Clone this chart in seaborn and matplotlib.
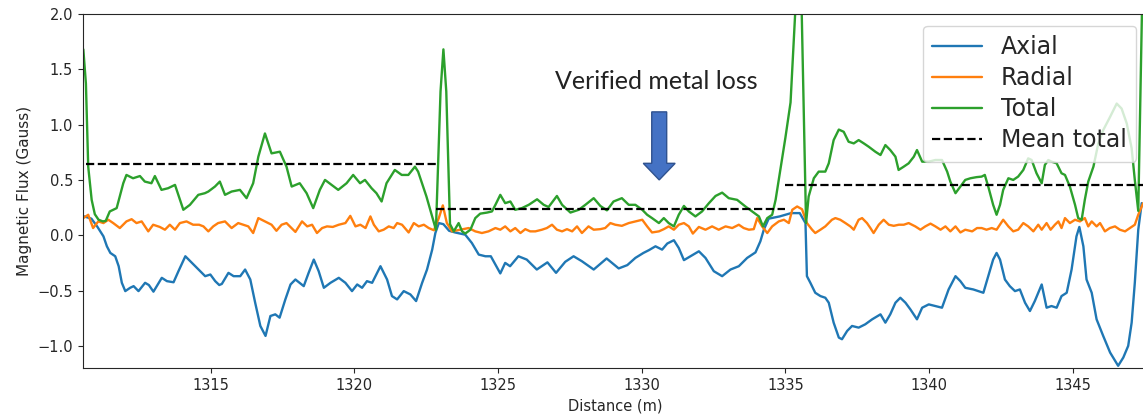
import numpy as np
import pandas as pd
import matplotlib
matplotlib.use("Agg")
import matplotlib.pyplot as plt
from matplotlib.lines import Line2D
from matplotlib.patches import FancyArrow
import seaborn as sns

# Axial component
axial_x = [1310.6, 1310.85, 1311.05, 1311.27, 1311.39, 1311.51, 1311.68, 1311.8, 1311.91, 1312.03,
           1312.2, 1312.32, 1312.49, 1312.72, 1312.85, 1313.01, 1313.3, 1313.48, 1313.71, 1313.88,
           1314.12, 1314.35, 1314.58, 1314.81, 1314.99, 1315.16, 1315.3, 1315.39, 1315.62, 1315.8,
           1316.03, 1316.2, 1316.38, 1316.55, 1316.73, 1316.91, 1317.08, 1317.25, 1317.4, 1317.6,
           1317.78, 1317.95, 1318.24, 1318.41, 1318.59, 1318.76, 1318.94, 1319.17, 1319.46, 1319.69,
           1319.92, 1320.1, 1320.27, 1320.44, 1320.62, 1320.91, 1321.14, 1321.31, 1321.49, 1321.72,
           1321.95, 1322.15, 1322.36, 1322.53, 1322.71, 1322.82, 1322.94, 1323.1, 1323.3, 1323.51,
           1323.86, 1324.09, 1324.33, 1324.56, 1324.75, 1324.91, 1325.08, 1325.25, 1325.42, 1325.71,
           1326.0, 1326.35, 1326.72, 1327.02, 1327.34, 1327.63, 1327.92, 1328.33, 1328.78, 1329.2,
           1329.5, 1329.78, 1330.06, 1330.25, 1330.48, 1330.71, 1330.89, 1331.12, 1331.29, 1331.47,
           1331.7, 1331.99, 1332.22, 1332.51, 1332.8, 1333.09, 1333.38, 1333.67, 1333.96, 1334.13,
           1334.25, 1334.42, 1334.8, 1335.2, 1335.5, 1335.7, 1335.75, 1335.87, 1336.04, 1336.22,
           1336.39, 1336.51, 1336.68, 1336.86, 1336.97, 1337.15, 1337.32, 1337.55, 1337.78, 1338.02,
           1338.31, 1338.48, 1338.65, 1338.83, 1339.0, 1339.18, 1339.35, 1339.58, 1339.76, 1339.99,
           1340.22, 1340.45, 1340.68, 1340.92, 1341.09, 1341.26, 1341.54, 1341.89, 1342.06, 1342.23,
           1342.35, 1342.47, 1342.64, 1342.81, 1342.99, 1343.16, 1343.34, 1343.51, 1343.68, 1343.92,
           1344.09, 1344.26, 1344.44, 1344.61, 1344.79, 1344.96, 1345.13, 1345.23, 1345.37, 1345.48,
           1345.66, 1345.83, 1346.06, 1346.3, 1346.58, 1346.76, 1346.93, 1347.05, 1347.16, 1347.28,
           1347.4]
axial_y = [0.17, 0.15, 0.08, -0.01, -0.10, -0.16, -0.19, -0.28, -0.43, -0.505,
           -0.475, -0.46, -0.505, -0.43, -0.45, -0.51, -0.385, -0.415, -0.425, -0.325,
           -0.19, -0.25, -0.31, -0.37, -0.355, -0.415, -0.45, -0.44, -0.34, -0.37,
           -0.37, -0.31, -0.4, -0.61, -0.82, -0.91, -0.73, -0.715, -0.745, -0.58,
           -0.445, -0.4, -0.46, -0.34, -0.22, -0.325, -0.475, -0.43, -0.385, -0.43,
           -0.505, -0.445, -0.475, -0.415, -0.43, -0.28, -0.4, -0.55, -0.58, -0.505,
           -0.535, -0.595, -0.43, -0.31, -0.13, 0.02, 0.11, 0.1, 0.04, 0.025,
           0.005, -0.07, -0.175, -0.19, -0.19, -0.265, -0.345, -0.25, -0.28, -0.19,
           -0.22, -0.31, -0.245, -0.34, -0.24, -0.19, -0.235, -0.31, -0.21, -0.3,
           -0.27, -0.205, -0.16, -0.135, -0.1, -0.13, -0.075, -0.045, -0.115, -0.225,
           -0.19, -0.145, -0.205, -0.325, -0.37, -0.31, -0.28, -0.205, -0.155, -0.055,
           0.05, 0.15, 0.17, 0.2, 0.2, 0.11, -0.37, -0.43, -0.52, -0.55,
           -0.565, -0.61, -0.79, -0.925, -0.94, -0.865, -0.82, -0.835, -0.805, -0.76,
           -0.715, -0.79, -0.715, -0.61, -0.565, -0.61, -0.67, -0.76, -0.655, -0.625,
           -0.64, -0.655, -0.49, -0.37, -0.415, -0.475, -0.49, -0.52, -0.37, -0.22,
           -0.16, -0.22, -0.4, -0.46, -0.505, -0.49, -0.61, -0.685, -0.595, -0.445,
           -0.655, -0.64, -0.655, -0.55, -0.52, -0.31, -0.01, 0.075, -0.1, -0.4,
           -0.52, -0.76, -0.91, -1.06, -1.18, -1.105, -1.0, -0.79, -0.43, 0.05,
           0.29]

# Radial component
radial_x = [1310.57, 1310.74, 1310.91, 1311.09, 1311.27, 1311.44, 1311.61, 1311.84, 1312.07, 1312.25,
            1312.42, 1312.6, 1312.83, 1313.0, 1313.23, 1313.41, 1313.58, 1313.76, 1313.93, 1314.16,
            1314.39, 1314.6, 1314.75, 1314.92, 1315.09, 1315.26, 1315.5, 1315.73, 1315.96, 1316.13,
            1316.31, 1316.48, 1316.66, 1316.89, 1317.12, 1317.29, 1317.47, 1317.64, 1317.87, 1317.95,
            1318.18, 1318.36, 1318.53, 1318.7, 1318.88, 1319.05, 1319.25, 1319.46, 1319.69, 1319.86,
            1320.04, 1320.21, 1320.39, 1320.56, 1320.68, 1320.85, 1321.02, 1321.2, 1321.37, 1321.49,
            1321.66, 1321.89, 1322.07, 1322.24, 1322.42, 1322.59, 1322.77, 1322.94, 1323.08, 1323.22,
            1323.4, 1323.69, 1323.98, 1324.21, 1324.44, 1324.67, 1324.91, 1325.08, 1325.25, 1325.43,
            1325.6, 1325.78, 1325.95, 1326.12, 1326.3, 1326.53, 1326.7, 1326.88, 1327.05, 1327.23,
            1327.4, 1327.58, 1327.75, 1327.92, 1328.15, 1328.33, 1328.56, 1328.73, 1328.91, 1329.08,
            1329.31, 1329.55, 1329.78, 1330.02, 1330.19, 1330.36, 1330.6, 1330.77, 1330.94, 1331.12,
            1331.29, 1331.47, 1331.64, 1331.78, 1331.99, 1332.22, 1332.45, 1332.68, 1332.92, 1333.15,
            1333.38, 1333.55, 1333.73, 1333.9, 1334.02, 1334.19, 1334.37, 1334.54, 1334.77, 1334.95,
            1335.12, 1335.24, 1335.41, 1335.58, 1335.75, 1335.93, 1336.04, 1336.22, 1336.39, 1336.62,
            1336.74, 1336.91, 1337.09, 1337.26, 1337.38, 1337.55, 1337.67, 1337.84, 1337.96, 1338.07,
            1338.25, 1338.42, 1338.6, 1338.77, 1338.95, 1339.12, 1339.29, 1339.52, 1339.7, 1339.87,
            1340.05, 1340.22, 1340.4, 1340.57, 1340.74, 1340.92, 1341.09, 1341.26, 1341.5, 1341.67,
            1341.83, 1342.0, 1342.18, 1342.35, 1342.58, 1342.76, 1342.93, 1343.1, 1343.28, 1343.45,
            1343.63, 1343.8, 1343.92, 1344.09, 1344.23, 1344.38, 1344.5, 1344.61, 1344.73, 1344.9,
            1345.08, 1345.25, 1345.42, 1345.54, 1345.66, 1345.83, 1345.95, 1346.12, 1346.29, 1346.47,
            1346.64, 1346.82, 1346.99, 1347.16, 1347.28, 1347.45]
radial_y = [0.155, 0.185, 0.065, 0.125, 0.11, 0.14, 0.11, 0.065, 0.125, 0.145,
            0.11, 0.125, 0.035, 0.095, 0.075, 0.05, 0.095, 0.05, 0.11, 0.125,
            0.095, 0.095, 0.08, 0.035, 0.08, 0.11, 0.125, 0.065, 0.11, 0.095,
            0.08, 0.02, 0.155, 0.125, 0.095, 0.04, 0.095, 0.11, 0.05, 0.03,
            0.125, 0.08, 0.095, 0.02, 0.065, 0.08, 0.075, 0.095, 0.11, 0.175,
            0.08, 0.095, 0.065, 0.17, 0.095, 0.035, 0.05, 0.08, 0.065, 0.11,
            0.095, 0.025, 0.11, 0.08, 0.095, 0.065, 0.045, 0.155, 0.27, 0.11,
            0.035, 0.05, 0.065, 0.035, 0.02, 0.035, 0.065, 0.05, 0.08, 0.035,
            0.065, 0.02, 0.055, 0.035, 0.035, 0.05, 0.065, 0.095, 0.05, 0.035,
            0.055, 0.035, 0.08, 0.02, 0.08, 0.05, 0.055, 0.065, 0.11, 0.095,
            0.085, 0.11, 0.125, 0.14, 0.08, 0.025, 0.035, 0.055, 0.08, 0.05,
            0.095, 0.11, 0.08, 0.015, 0.075, 0.05, 0.08, 0.05, 0.08, 0.065,
            0.095, 0.065, 0.05, 0.055, 0.155, 0.08, 0.02, 0.08, 0.125, 0.14,
            0.11, 0.23, 0.26, 0.235, 0.11, 0.05, 0.02, 0.05, 0.08, 0.14,
            0.155, 0.14, 0.11, 0.08, 0.05, 0.14, 0.155, 0.11, 0.065, 0.02,
            0.095, 0.14, 0.095, 0.085, 0.095, 0.095, 0.11, 0.08, 0.05, 0.08,
            0.105, 0.08, 0.05, 0.08, 0.035, 0.08, 0.025, 0.05, 0.035, 0.065,
            0.065, 0.05, 0.065, 0.05, 0.14, 0.08, 0.035, 0.05, 0.11, 0.08,
            0.035, 0.095, 0.05, 0.11, 0.05, 0.095, 0.125, 0.065, 0.155, 0.11,
            0.14, 0.125, 0.155, 0.08, 0.125, 0.08, 0.11, 0.035, 0.065, 0.08,
            0.05, 0.035, 0.065, 0.095, 0.185, 0.29]

# Total flux
total_x = [1310.57, 1310.66, 1310.74, 1310.86, 1310.97, 1311.1, 1311.25, 1311.35, 1311.49, 1311.73,
           1311.96, 1312.07, 1312.3, 1312.54, 1312.71, 1312.94, 1313.06, 1313.29, 1313.52, 1313.76,
           1314.05, 1314.28, 1314.57, 1314.8, 1314.92, 1315.15, 1315.32, 1315.5, 1315.73, 1316.02,
           1316.25, 1316.48, 1316.66, 1316.89, 1317.12, 1317.41, 1317.64, 1317.82, 1318.1, 1318.34,
           1318.57, 1318.8, 1318.98, 1319.21, 1319.44, 1319.73, 1319.96, 1320.2, 1320.37, 1320.6,
           1320.77, 1320.95, 1321.12, 1321.41, 1321.65, 1321.88, 1322.11, 1322.22, 1322.51, 1322.84,
           1323.0, 1323.1, 1323.2, 1323.33, 1323.46, 1323.63, 1323.75, 1323.86, 1324.04, 1324.21,
           1324.38, 1324.62, 1324.79, 1324.91, 1325.08, 1325.25, 1325.43, 1325.6, 1325.83, 1326.07,
           1326.36, 1326.59, 1326.76, 1327.05, 1327.23, 1327.52, 1327.81, 1328.04, 1328.33, 1328.56,
           1328.79, 1329.02, 1329.31, 1329.55, 1329.78, 1330.02, 1330.19, 1330.36, 1330.6, 1330.77,
           1330.94, 1331.12, 1331.29, 1331.47, 1331.64, 1331.87, 1332.1, 1332.34, 1332.57, 1332.8,
           1333.03, 1333.32, 1333.61, 1333.9, 1334.08, 1334.22, 1334.37, 1334.54, 1334.66, 1334.83,
           1335.0, 1335.18, 1335.34, 1335.45, 1335.57, 1335.72, 1335.81, 1335.99, 1336.16, 1336.39,
           1336.51, 1336.68, 1336.86, 1337.03, 1337.2, 1337.38, 1337.55, 1337.73, 1337.9, 1338.13,
           1338.31, 1338.48, 1338.65, 1338.83, 1338.94, 1339.12, 1339.29, 1339.47, 1339.58, 1339.76,
           1339.99, 1340.22, 1340.45, 1340.63, 1340.74, 1340.92, 1341.09, 1341.26, 1341.44, 1341.65,
           1341.83, 1341.94, 1342.06, 1342.23, 1342.35, 1342.47, 1342.58, 1342.76, 1342.93, 1343.1,
           1343.28, 1343.45, 1343.57, 1343.74, 1343.92, 1344.03, 1344.15, 1344.26, 1344.44, 1344.61,
           1344.73, 1344.9, 1345.08, 1345.19, 1345.31, 1345.42, 1345.54, 1345.72, 1345.89, 1346.06,
           1346.3, 1346.53, 1346.7, 1346.88, 1347.05, 1347.16, 1347.28, 1347.45]
total_y = [1.68, 1.37, 0.62, 0.32, 0.19, 0.14, 0.125, 0.13, 0.215, 0.245,
           0.47, 0.545, 0.515, 0.535, 0.485, 0.47, 0.535, 0.41, 0.425, 0.455,
           0.23, 0.275, 0.365, 0.38, 0.395, 0.44, 0.485, 0.365, 0.395, 0.41,
           0.335, 0.47, 0.71, 0.92, 0.74, 0.755, 0.62, 0.44, 0.47, 0.38,
           0.245, 0.41, 0.5, 0.455, 0.41, 0.47, 0.545, 0.47, 0.5, 0.425,
           0.38, 0.305, 0.47, 0.59, 0.545, 0.545, 0.62, 0.575, 0.35, 0.05,
           1.3, 1.68, 1.3, 0.1, 0.035, 0.11, 0.035, 0.015, 0.05, 0.155,
           0.195, 0.205, 0.215, 0.275, 0.365, 0.29, 0.305, 0.23, 0.245, 0.275,
           0.325, 0.275, 0.255, 0.355, 0.275, 0.205, 0.23, 0.275, 0.335, 0.265,
           0.225, 0.305, 0.335, 0.275, 0.275, 0.23, 0.185, 0.155, 0.11, 0.155,
           0.11, 0.08, 0.185, 0.265, 0.215, 0.17, 0.215, 0.29, 0.355, 0.385,
           0.335, 0.32, 0.26, 0.205, 0.17, 0.08, 0.155, 0.185, 0.32, 0.6,
           0.88, 1.2, 2.0, 2.7, 2.0, 0.11, 0.35, 0.515, 0.575, 0.575,
           0.65, 0.86, 0.955, 0.935, 0.845, 0.83, 0.86, 0.83, 0.8, 0.755,
           0.725, 0.815, 0.77, 0.71, 0.59, 0.62, 0.65, 0.71, 0.77, 0.665,
           0.665, 0.68, 0.68, 0.575, 0.485, 0.38, 0.44, 0.5, 0.515, 0.525,
           0.53, 0.545, 0.44, 0.275, 0.185, 0.275, 0.41, 0.515, 0.5, 0.53,
           0.59, 0.695, 0.68, 0.56, 0.47, 0.635, 0.68, 0.665, 0.65, 0.56,
           0.545, 0.44, 0.275, 0.155, 0.14, 0.32, 0.485, 0.62, 0.83, 0.95,
           1.07, 1.19, 1.145, 1.01, 0.785, 0.5, 0.22, 2.6]

# Mean total per section
section_start = [1310.67, 1322.84, 1334.98]
section_end = [1322.84, 1335.0, 1347.7]
mean_total = [0.644, 0.239, 0.452]

colors = sns.color_palette("tab10")

df = pd.concat([
    pd.DataFrame({"distance": axial_x, "flux": axial_y, "component": "Axial"}),
    pd.DataFrame({"distance": radial_x, "flux": radial_y, "component": "Radial"}),
    pd.DataFrame({"distance": total_x, "flux": total_y, "component": "Total"}),
], ignore_index=True)

sns.set_style("ticks")
fig = plt.figure(figsize=(11.43, 4.19), dpi=100)
ax = fig.add_axes([0.0724, 0.1217, 0.932, 0.845])

sns.lineplot(data=df, x="distance", y="flux", hue="component",
             palette=[colors[0], colors[1], colors[2]], estimator=None, sort=False,
             linewidth=1.7, legend=False, ax=ax)
ax.hlines(mean_total, section_start, section_end, colors="black",
          linestyles="--", linewidth=1.6, zorder=3)

ax.set_xlim(1310.55, 1347.62)
ax.set_ylim(-1.2, 2.0)
ax.set_yticks([-1.0, -0.5, 0.0, 0.5, 1.0, 1.5, 2.0])
ax.set_xticks([1315, 1320, 1325, 1330, 1335, 1340, 1345])
ax.tick_params(labelsize=10.5)
ax.set_xlabel("Distance (m)", fontsize=10.5)
ax.set_ylabel("Magnetic Flux (Gauss)", fontsize=11)

# annotation: verified metal loss
ax.text(1330.52, 1.385, "Verified metal loss", ha="center", va="center",
        fontsize=18, family=["Lato", "DejaVu Sans"], color="#222222")
ax.add_patch(FancyArrow(1330.61, 1.115, 0, -0.615, width=0.52, head_width=1.11,
                        head_length=0.15, length_includes_head=True,
                        facecolor="#4472C4", edgecolor="#2F528F", linewidth=1, zorder=4))

handles = [
    Line2D([], [], color=colors[0], lw=1.7),
    Line2D([], [], color=colors[1], lw=1.7),
    Line2D([], [], color=colors[2], lw=1.7),
    Line2D([], [], color="black", lw=1.6, ls="--"),
]
ax.legend(handles, ["Axial", "Radial", "Total", "Mean total"], loc="upper right",
          fontsize=17, labelspacing=0.3, handlelength=2.1, borderpad=0.4)

fig.savefig("out.png", dpi=100)
